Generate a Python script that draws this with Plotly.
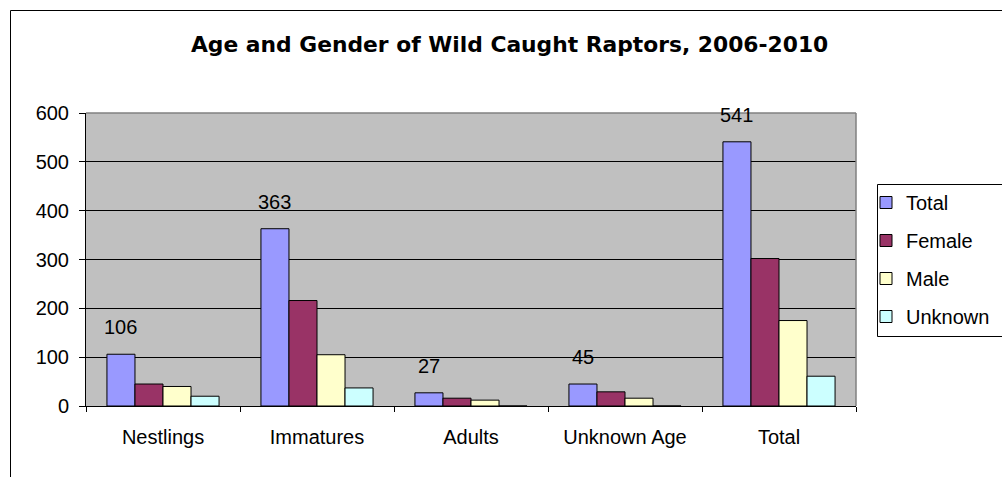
import plotly.graph_objects as go

# Wild-caught raptor counts, 2006-2010
categories = ["Nestlings", "Immatures", "Adults", "Unknown Age", "Total"]
total = [106, 363, 27, 45, 541]
female = [45, 216, 16, 29, 302]
male = [40, 105, 12, 16, 175]
unknown = [20, 37, 0, 0, 61]

series_names = ["Total", "Female", "Male", "Unknown"]
series_values = [total, female, male, unknown]
series_colors = ["#9999FF", "#993366", "#FFFFCC", "#CCFFFF"]

W, H = 1002, 477
ML, MR, MT, MB = 86, 146, 113, 71
PW, PH = W - ML - MR, H - MT - MB
BARGAP = 0.272


def px_x(px):
    return (px - ML) / PW


def px_y(py):
    return (H - MB - py) / PH


fig = go.Figure()
for i, (name, vals, col) in enumerate(zip(series_names, series_values, series_colors)):
    fig.add_trace(go.Bar(
        x=categories, y=vals, name=name,
        marker=dict(color=col, line=dict(color="black", width=1)),
        legendgroup=f"g{i}",
    ))

# value labels above the "Total" bars
bar_px = PW / len(categories) * (1 - BARGAP) / len(series_names)
for cat, v in zip(categories, total):
    fig.add_annotation(
        x=cat, y=v, xref="x", yref="y", text=str(v), showarrow=False,
        xshift=-1.5 * bar_px, yshift=27, yanchor="middle",
        font=dict(family="Liberation Sans, Arial, sans-serif", size=20, color="black"),
    )

fig.add_annotation(
    x=px_x(510), y=px_y(44), xref="paper", yref="paper",
    text="<b>Age and Gender of Wild Caught Raptors, 2006-2010</b>",
    showarrow=False, xanchor="center", yanchor="middle",
    font=dict(family="DejaVu Sans, sans-serif", size=21.8, color="black"),
)

shapes = [
    # outer chart frame
    dict(type="rect", xref="paper", yref="paper",
         x0=px_x(10.5), x1=px_x(1010), y0=px_y(490), y1=px_y(10.5),
         line=dict(color="black", width=1), fillcolor="rgba(0,0,0,0)", layer="below"),
    # plot-area border (top and right)
    dict(type="line", xref="paper", yref="paper", x0=0, x1=1, y0=1, y1=1,
         line=dict(color="#808080", width=1.5)),
    dict(type="line", xref="paper", yref="paper", x0=1, x1=1, y0=0, y1=1,
         line=dict(color="#808080", width=1.5)),
    # legend box
    dict(type="rect", xref="paper", yref="paper",
         x0=px_x(877.5), x1=px_x(1010), y0=px_y(336.5), y1=px_y(184.5),
         line=dict(color="black", width=1), fillcolor="white"),
]

fig.update_layout(
    width=W, height=H,
    margin=dict(l=ML, r=MR, t=MT, b=MB, pad=0, autoexpand=False),
    paper_bgcolor="white", plot_bgcolor="#C0C0C0",
    barmode="group", bargap=BARGAP, bargroupgap=0,
    font=dict(family="Liberation Sans, Arial, sans-serif", size=20, color="black"),
    shapes=shapes,
    showlegend=True,
    legend=dict(
        xref="container", yref="container",
        x=866 / W, y=1 - 183 / H, xanchor="left", yanchor="top",
        bgcolor="rgba(0,0,0,0)", borderwidth=0,
        font=dict(size=20), traceorder="grouped", tracegroupgap=9,
    ),
    xaxis=dict(
        showline=True, linecolor="black", linewidth=1,
        ticks="outside", tickson="boundaries", ticklen=5, tickcolor="black",
        showgrid=False, ticklabelstandoff=13,
        tickfont=dict(size=20),
    ),
    yaxis=dict(
        range=[0, 600], dtick=100, showline=True, linecolor="black", linewidth=1,
        ticks="outside", ticklen=6, tickcolor="black",
        showgrid=True, gridcolor="black", gridwidth=1, zeroline=False,
        tickfont=dict(size=20), ticklabelstandoff=6,
    ),
)

fig.write_html("out.html")
